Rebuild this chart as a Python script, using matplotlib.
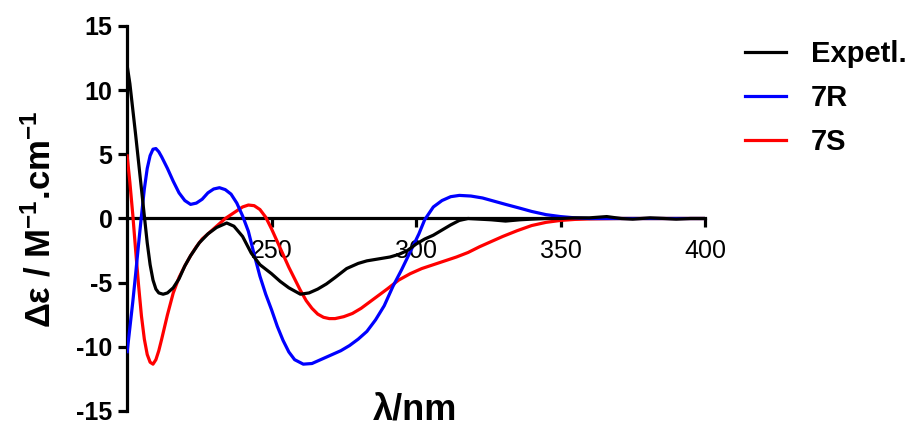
import matplotlib
matplotlib.use("Agg")
import matplotlib.pyplot as plt
from matplotlib.lines import Line2D

plt.rcParams['font.family'] = ['Liberation Sans', 'DejaVu Sans']
plt.rcParams['axes.unicode_minus'] = False
plt.rcParams['mathtext.fontset'] = 'custom'
plt.rcParams['mathtext.rm'] = 'Liberation Sans:bold'
plt.rcParams['mathtext.bf'] = 'Liberation Sans:bold'
plt.rcParams['mathtext.default'] = 'regular'

# ---- data ----
exp_x = [200, 201, 202, 203, 204, 205, 206, 207, 208, 209, 210, 211, 212.5, 214, 216, 218,
         220, 222, 225, 228, 231, 234.5, 237, 240, 243, 246, 250, 253, 256, 260, 263, 266,
         269, 272, 276, 280, 283, 287, 291, 294, 297, 300, 303, 306, 309, 312, 315, 318,
         322, 326, 331, 336, 340, 345, 350, 355, 360, 366, 371, 375, 381, 386, 390, 395, 400]
exp_y = [12.0, 10.5, 8.5, 6.5, 4.4, 2.3, 0.2, -1.9, -3.6, -4.8, -5.5, -5.8, -5.9, -5.8, -5.4, -4.7,
         -3.7, -2.9, -1.9, -1.2, -0.7, -0.35, -0.6, -1.4, -2.7, -3.6, -4.3, -4.9, -5.4, -5.9, -5.8, -5.5,
         -5.1, -4.6, -3.9, -3.5, -3.3, -3.15, -3.0, -2.8, -2.5, -2.0, -1.6, -1.3, -0.9, -0.5, -0.15, 0.0,
         -0.05, -0.1, -0.2, -0.1, -0.05, 0.0, 0.0, 0.05, 0.05, 0.15, 0.0, -0.05, 0.05, 0.0, -0.05, 0.0, 0.0]

r_x = [200, 201, 202, 203, 204, 205, 206, 207, 208, 209, 210, 211, 212, 214, 216, 218, 220,
       222, 224, 226, 228, 230, 232, 234, 236, 238, 240, 242, 244, 246, 248, 250, 252, 254,
       256, 258, 261, 264, 267, 270, 274, 277, 280, 283, 286, 289, 292, 295, 298, 301, 303,
       306, 309, 312, 315, 319, 323, 327, 331, 336, 340, 345, 350, 355, 360, 370, 380, 390, 400]
r_y = [-10.5, -8.5, -6.5, -4.3, -2.0, 0.2, 2.3, 3.9, 4.9, 5.4, 5.45, 5.2, 4.8, 3.9, 2.9, 2.0, 1.4,
       1.1, 1.2, 1.5, 2.0, 2.3, 2.4, 2.25, 1.9, 1.2, 0.2, -1.0, -2.8, -4.5, -5.9, -7.1, -8.4, -9.5,
       -10.4, -11.0, -11.35, -11.3, -11.0, -10.7, -10.3, -9.9, -9.4, -8.8, -7.9, -6.8, -5.3, -4.0, -2.6, -1.2, -0.1,
       0.9, 1.4, 1.7, 1.8, 1.75, 1.6, 1.35, 1.1, 0.8, 0.55, 0.3, 0.15, 0.05, 0.0, 0.0, 0.0, 0.0, 0.0]

s_x = [200, 201, 202, 203, 204, 205, 206, 207, 208, 209, 210, 211, 212, 214, 216, 218, 220,
       222, 224, 226, 228, 230, 232, 234, 236, 238, 240, 242, 244, 246, 248, 250, 252, 254,
       256, 258, 260, 262, 264, 266, 268, 270, 272, 275, 278, 281, 284, 287, 290, 294, 298,
       302, 306, 310, 314, 318, 322, 326, 330, 335, 340, 345, 350, 355, 360, 370, 380, 390, 400]
s_y = [5.0, 2.8, 0.3, -2.5, -5.2, -7.6, -9.4, -10.6, -11.2, -11.35, -11.0, -10.3, -9.4, -7.5, -5.8, -4.6, -3.7,
       -2.9, -2.2, -1.6, -1.2, -0.8, -0.4, 0.0, 0.3, 0.6, 0.9, 1.05, 1.0, 0.7, 0.1, -0.8, -1.8, -2.8,
       -3.8, -4.7, -5.6, -6.4, -7.0, -7.45, -7.7, -7.8, -7.8, -7.65, -7.4, -7.0, -6.5, -6.0, -5.5, -4.8, -4.3,
       -3.9, -3.6, -3.3, -3.0, -2.65, -2.2, -1.8, -1.4, -0.95, -0.55, -0.3, -0.15, -0.07, -0.03, 0.0, 0.0, 0.0, 0.0]

series_labels = ['Expetl.', '7R', '7S']
series_colors = ['#000000', '#0000FF', '#FF0000']
x_ticks = [250, 300, 350, 400]
y_ticks = [-15, -10, -5, 0, 5, 10, 15]

fig = plt.figure(figsize=(9.16, 4.30), dpi=100)
ax = fig.add_axes([127/916, 1-411/430, (705-127)/916, (411-26)/430])

lw = 2.3
ax.plot(s_x, s_y, color=series_colors[2], lw=lw, solid_capstyle='butt', zorder=3)
ax.plot(r_x, r_y, color=series_colors[1], lw=lw, solid_capstyle='butt', zorder=4)
ax.plot(exp_x, exp_y, color=series_colors[0], lw=lw, solid_capstyle='butt', zorder=5)

ax.set_xlim(200, 400)
ax.set_ylim(-15, 15)
ax.spines['top'].set_visible(False)
ax.spines['right'].set_visible(False)
ax.spines['bottom'].set_position(('data', 0))
ax.spines['left'].set_linewidth(2.3)
ax.spines['bottom'].set_linewidth(2.3)
ax.spines['bottom'].set_zorder(2)

ax.set_xticks(x_ticks)
ax.set_yticks(y_ticks)
ax.set_xticklabels([str(v) for v in x_ticks], fontsize=18)
ax.set_yticklabels([str(v) for v in y_ticks], fontsize=18, fontweight='bold')
ax.tick_params(axis='y', direction='out', length=6.5, width=2.3, pad=4)
ax.tick_params(axis='x', direction='out', length=6.5, width=2.3, pad=8)

fig.text(40/916, 1-219/430, r'Δε / M$^{-1}$.cm$^{-1}$', rotation=90, ha='center', va='center',
         fontsize=25, fontweight='bold')
fig.text(415/916, 1-410/430, 'λ/nm', ha='center', va='center', fontsize=26, fontweight='bold')

handles = [Line2D([], [], color=c, lw=lw) for c in series_colors]
leg = fig.legend(handles, series_labels, loc='upper left', bbox_to_anchor=(745/916, 1-40/430),
                 frameon=False, handlelength=1.4, handletextpad=0.85, labelspacing=0.55,
                 borderpad=0, borderaxespad=0,
                 prop={'family': 'Liberation Sans', 'weight': 'bold', 'size': 21})

fig.savefig('out.png', dpi=100)
